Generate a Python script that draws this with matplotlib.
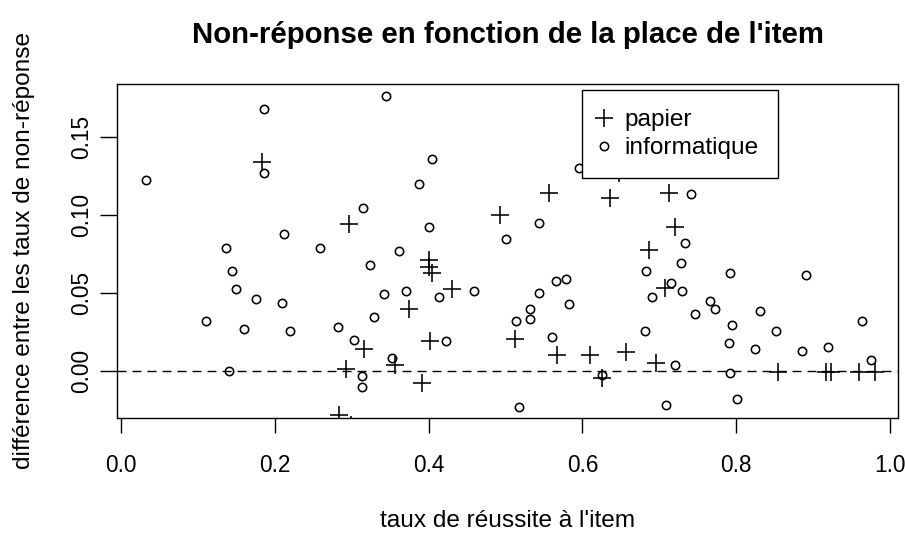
import matplotlib
matplotlib.use("Agg")
import matplotlib.pyplot as plt

plt.rcParams['font.family'] = ['Liberation Sans', 'DejaVu Sans']

# "papier" (+)
papier_x = [0.183, 0.296, 0.493, 0.556, 0.636, 0.647, 0.713, 0.720, 0.686, 0.707,
            0.401, 0.400, 0.405, 0.431, 0.374, 0.316, 0.402, 0.356, 0.293, 0.392,
            0.512, 0.567, 0.610, 0.625, 0.657, 0.696, 0.854, 0.917, 0.923, 0.960,
            0.980, 0.283, 0.299]
papier_y = [0.1336, 0.0938, 0.0998, 0.1140, 0.1105, 0.1270, 0.1137, 0.0923, 0.0774, 0.0528,
            0.0710, 0.0667, 0.0624, 0.0526, 0.0397, 0.0139, 0.0192, 0.0037, 0.0011, -0.0077,
            0.0203, 0.0101, 0.0101, -0.0049, 0.0122, 0.0047, -0.0008, -0.0008, -0.0008, -0.0010,
            -0.0010, -0.0284, -0.0350]

# "informatique" (o)
info_x = [0.186, 0.186, 0.033, 0.315, 0.212, 0.137, 0.259, 0.345, 0.405, 0.387,
          0.400, 0.361, 0.501, 0.543, 0.596, 0.741, 0.733, 0.728, 0.683, 0.792,
          0.891, 0.715, 0.730, 0.691, 0.766, 0.772, 0.746, 0.831, 0.795, 0.852,
          0.964, 0.681, 0.790, 0.824, 0.886, 0.920, 0.720, 0.792, 0.975, 0.801,
          0.709, 0.324, 0.371, 0.342, 0.413, 0.459, 0.329, 0.303, 0.423, 0.353,
          0.314, 0.314, 0.517, 0.543, 0.566, 0.579, 0.582, 0.532, 0.532, 0.514,
          0.561, 0.625, 0.144, 0.150, 0.176, 0.209, 0.111, 0.160, 0.220, 0.282,
          0.141]
info_y = [0.1680, 0.1270, 0.1220, 0.1040, 0.0874, 0.0785, 0.0785, 0.1760, 0.1360, 0.1195,
          0.0923, 0.0769, 0.0846, 0.0949, 0.1297, 0.1130, 0.0817, 0.0692, 0.0641, 0.0628,
          0.0615, 0.0564, 0.0513, 0.0474, 0.0449, 0.0396, 0.0361, 0.0383, 0.0295, 0.0254,
          0.0319, 0.0254, 0.0176, 0.0139, 0.0128, 0.0152, 0.0037, -0.0017, 0.0069, -0.0181,
          -0.0220, 0.0680, 0.0513, 0.0490, 0.0474, 0.0511, 0.0346, 0.0197, 0.0192, 0.0079,
          -0.0034, -0.0103, -0.0231, 0.0500, 0.0575, 0.0588, 0.0426, 0.0394, 0.0331, 0.0321,
          0.0218, -0.0028, 0.0639, 0.0524, 0.0460, 0.0434, 0.0319, 0.0267, 0.0254, 0.0280,
          -0.0002]

x_ticks = [0.0, 0.2, 0.4, 0.6, 0.8, 1.0]
y_ticks = [0.00, 0.05, 0.10, 0.15]

W, H = 905, 534
fig = plt.figure(figsize=(W / 100, H / 100), dpi=100)
ax = fig.add_axes([117.3 / W, 1 - 418.3 / H, 781 / W, 334 / H])

ax.plot(papier_x, papier_y, ls='none', marker='+', ms=12.5, mew=1.15, color='black', label='papier')
ax.plot(info_x, info_y, ls='none', marker='o', ms=6, mew=1.15, mfc='none', mec='black',
        label='informatique')
ax.axhline(0, color='black', lw=1, ls=(0, (6.5, 4.3)))

ax.set_xlim(-0.0048, 1.0108)
ax.set_ylim(-0.0305, 0.1836)
ax.set_xticks(x_ticks)
ax.set_xticklabels(['0.0', '0.2', '0.4', '0.6', '0.8', '1.0'])
ax.set_yticks(y_ticks)
ax.set_yticklabels(['0.00', '0.05', '0.10', '0.15'], rotation=90, va='center')
ax.tick_params(length=11, width=1, labelsize=16.3, direction='out')
ax.tick_params(axis='y', length=12, pad=5.6)
ax.tick_params(axis='x', pad=15)
for s in ax.spines.values():
    s.set_linewidth(1)

leg = ax.legend(loc='upper left', bbox_to_anchor=((582.3 - 117.3) / 781, 1 - (90 - 84.3) / 334),
                borderaxespad=0, fontsize=17.6, fancybox=False, edgecolor='black',
                framealpha=1, borderpad=0.78, handlelength=0.2, handletextpad=0.76,
                labelspacing=0.25)
leg.get_frame().set_linewidth(1)

fig.text(507.8 / W, 1 - 43 / H, "Non-réponse en fonction de la place de l'item",
         ha='center', va='baseline', fontsize=21.2, fontweight='bold')
fig.text(507.8 / W, 1 - 527 / H, "taux de réussite à l'item",
         ha='center', va='baseline', fontsize=17.6)
fig.text(35 / W, 1 - 251 / H, "différence entre les taux de non-réponse",
         ha='right', va='center', rotation=90, fontsize=17.6)

fig.savefig('out.png', dpi=100)
